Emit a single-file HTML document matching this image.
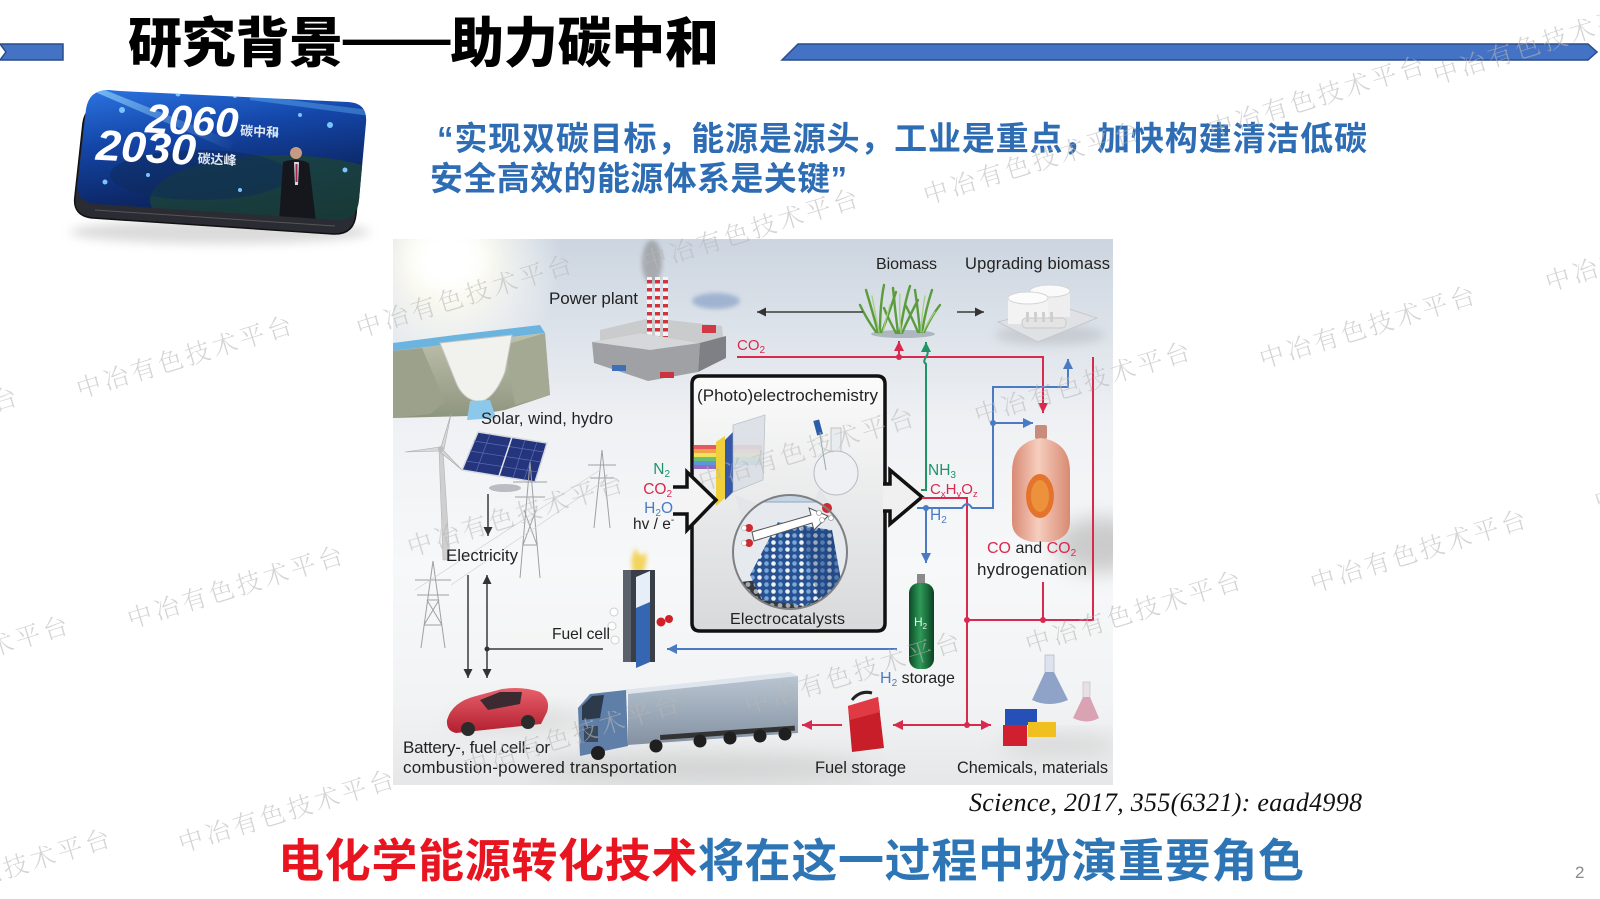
<!DOCTYPE html>
<html><head><meta charset="utf-8">
<style>
html,body{margin:0;padding:0;background:#fff;}
svg{display:block;}
</style></head>
<body>
<svg width="1600" height="899" viewBox="0 0 1600 899" xmlns="http://www.w3.org/2000/svg">
<defs>
  <linearGradient id="dbg" x1="0" y1="0" x2="0" y2="1">
    <stop offset="0" stop-color="#ccd5e0"/>
    <stop offset="0.17" stop-color="#dde3ea"/>
    <stop offset="0.34" stop-color="#eff1f4"/>
    <stop offset="0.6" stop-color="#f7f8f9"/>
    <stop offset="0.85" stop-color="#f2f3f4"/>
    <stop offset="1" stop-color="#e6e7e8"/>
  </linearGradient>
  <radialGradient id="sun" cx="0.5" cy="0.5" r="0.5">
    <stop offset="0" stop-color="#ffffff" stop-opacity="1"/>
    <stop offset="0.35" stop-color="#fffdf0" stop-opacity="0.85"/>
    <stop offset="1" stop-color="#ffffff" stop-opacity="0"/>
  </radialGradient>
  <linearGradient id="mtn" x1="0" y1="0" x2="0" y2="1">
    <stop offset="0" stop-color="#bfc2ad"/>
    <stop offset="1" stop-color="#8e957f"/>
  </linearGradient>
  <linearGradient id="boxg" x1="0" y1="0" x2="0" y2="1">
    <stop offset="0" stop-color="#fbfbfb"/>
    <stop offset="1" stop-color="#d8d9db"/>
  </linearGradient>
  <linearGradient id="cyl" x1="0" y1="0" x2="1" y2="0">
    <stop offset="0" stop-color="#0b4a27"/>
    <stop offset="0.45" stop-color="#2f9a58"/>
    <stop offset="1" stop-color="#0a4223"/>
  </linearGradient>
  <linearGradient id="tank" x1="0" y1="0" x2="1" y2="0">
    <stop offset="0" stop-color="#d98a74"/>
    <stop offset="0.45" stop-color="#f6cdbd"/>
    <stop offset="1" stop-color="#d88a72"/>
  </linearGradient>
  <linearGradient id="trailer" x1="0" y1="0" x2="0" y2="1">
    <stop offset="0" stop-color="#b9c5d1"/>
    <stop offset="1" stop-color="#8391a2"/>
  </linearGradient>
  <linearGradient id="car" x1="0" y1="0" x2="0" y2="1">
    <stop offset="0" stop-color="#e8606c"/>
    <stop offset="1" stop-color="#b31f30"/>
  </linearGradient>
  <linearGradient id="tv" x1="0.2" y1="0" x2="0.5" y2="1">
    <stop offset="0" stop-color="#2a72e0"/>
    <stop offset="0.35" stop-color="#1446a8"/>
    <stop offset="0.7" stop-color="#0d2a6c"/>
    <stop offset="1" stop-color="#0a1a3c"/>
  </linearGradient>
  <linearGradient id="streak" x1="0" y1="0" x2="1" y2="0">
    <stop offset="0" stop-color="#9fe0ff" stop-opacity="0.9"/>
    <stop offset="1" stop-color="#9fe0ff" stop-opacity="0"/>
  </linearGradient>
  <pattern id="chim" width="6" height="8" patternUnits="userSpaceOnUse">
    <rect width="6" height="8" fill="#f4f4f4"/><rect width="6" height="3.5" fill="#d0343f"/>
  </pattern>
  <pattern id="np" width="14" height="7" patternUnits="userSpaceOnUse">
    <rect width="14" height="7" fill="#27528f"/>
    <circle cx="3.5" cy="3.5" r="2.3" fill="#eef2f6"/>
    <circle cx="10.5" cy="3.5" r="2.3" fill="#7aa6dc"/>
  </pattern>
  <pattern id="mesh" width="8" height="7" patternUnits="userSpaceOnUse">
    <rect width="8" height="7" fill="#35383d"/>
    <circle cx="4" cy="3.5" r="2.4" fill="#a4a9b0"/>
  </pattern>
  <filter id="b2" x="-50%" y="-50%" width="200%" height="200%"><feGaussianBlur stdDeviation="2"/></filter>
  <filter id="b5" x="-50%" y="-50%" width="200%" height="200%"><feGaussianBlur stdDeviation="5"/></filter>
  <filter id="b10" x="-50%" y="-50%" width="200%" height="200%"><feGaussianBlur stdDeviation="10"/></filter>
  <clipPath id="dclip"><rect x="393" y="239" width="720" height="546"/></clipPath>
  <clipPath id="cclip"><circle cx="790" cy="552" r="57"/></clipPath>
  <clipPath id="tvclip"><path d="M120,91 L348,102 Q368,103 366,123 L359,200 Q357,221 336,220 L96,204 Q75,202 78,182 L86,109 Q89,90 108,90 Z"/></clipPath>
  <marker id="mk" viewBox="0 0 10 10" refX="10" refY="5" markerWidth="9" markerHeight="9" markerUnits="userSpaceOnUse" orient="auto-start-reverse"><path d="M0,0 L10,5 L0,10 z" fill="#333"/></marker>
  <marker id="mr" viewBox="0 0 10 10" refX="10" refY="5" markerWidth="10" markerHeight="10" markerUnits="userSpaceOnUse" orient="auto-start-reverse"><path d="M0,0 L10,5 L0,10 z" fill="#d9294f"/></marker>
  <marker id="mb" viewBox="0 0 10 10" refX="10" refY="5" markerWidth="10" markerHeight="10" markerUnits="userSpaceOnUse" orient="auto-start-reverse"><path d="M0,0 L10,5 L0,10 z" fill="#4a7bc2"/></marker>
  <marker id="mg" viewBox="0 0 10 10" refX="10" refY="5" markerWidth="10" markerHeight="10" markerUnits="userSpaceOnUse" orient="auto-start-reverse"><path d="M0,0 L10,5 L0,10 z" fill="#1f9466"/></marker>
</defs>

<rect width="1600" height="899" fill="#fff"/>

<!-- Title bars -->
<polygon points="0,44 63,44 63,60 0,60 6,52" fill="#4472c4" stroke="#2a4d8a" stroke-width="1.5"/>
<polygon points="798,44 1588,44 1597,52 1588,60 782,60" fill="#4472c4" stroke="#2a4d8a" stroke-width="1.5"/>

<!-- Title -->
<text x="128" y="62" font-family="'Liberation Sans','Noto Sans CJK SC',sans-serif" font-weight="900" font-size="54" fill="#000" textLength="591" lengthAdjust="spacing">研究背景<tspan dy="-5">——</tspan><tspan dy="5">助力碳中和</tspan></text>

<!-- TV image -->
<ellipse cx="220" cy="232" rx="150" ry="12" fill="#999" opacity="0.35" filter="url(#b5)"/>
<path d="M117,105 L345,116 Q365,117 363,137 L356,214 Q354,235 333,234 L93,218 Q72,216 75,196 L83,123 Q86,104 105,104 Z" fill="#2b2c33" stroke="#111" stroke-width="1.5"/>
<path d="M95,210 L335,226" stroke="#555" stroke-width="1" fill="none"/>
<g clip-path="url(#tvclip)">
  <rect x="70" y="85" width="305" height="145" fill="url(#tv)"/>
  <ellipse cx="280" cy="200" rx="130" ry="45" fill="#1e4636" opacity="0.75"/>
  <ellipse cx="200" cy="175" rx="90" ry="25" fill="#0d2a5a" opacity="0.5"/>
  <polygon points="95,92 230,150 235,142 100,88" fill="url(#streak)" opacity="0.7"/>
  <polygon points="250,95 370,110 370,116 250,100" fill="#6fc6ff" opacity="0.35"/>
  <g fill="#7cc4ff">
    <circle cx="122" cy="110" r="3"/><circle cx="178" cy="94" r="2.5"/><circle cx="235" cy="96" r="2"/>
    <circle cx="330" cy="125" r="3"/><circle cx="276" cy="134" r="2.5"/><circle cx="105" cy="182" r="2.5"/>
    <circle cx="148" cy="175" r="2"/><circle cx="345" cy="170" r="2.5"/><circle cx="300" cy="115" r="2"/>
    <circle cx="240" cy="190" r="2"/>
  </g>
  <!-- person -->
  <circle cx="296" cy="153" r="6" fill="#c79a82"/>
  <path d="M283,162 Q296,157 309,163 L316,222 L279,222 Z" fill="#16171d"/>
  <polygon points="294,162 299,162 298,185 295,185" fill="#d8d8e0"/>
  <polygon points="295.5,164 297.5,164 297.5,182 295.5,182" fill="#9b2a4a"/>
</g>
<g transform="rotate(3 160 130)" font-family="'Liberation Sans','Noto Sans CJK SC',sans-serif">
  <text x="145" y="133" font-size="41" font-weight="700" font-style="italic" fill="#ffffff" textLength="93" lengthAdjust="spacingAndGlyphs">2060</text>
  <text x="240" y="131" font-size="13" font-weight="700" fill="#dfe6f0">碳中和</text>
  <text x="97" y="163" font-size="43" font-weight="700" font-style="italic" fill="#ffffff" textLength="100" lengthAdjust="spacingAndGlyphs">2030</text>
  <text x="199" y="161" font-size="13" font-weight="700" fill="#dfe6f0">碳达峰</text>
</g>

<!-- Quote -->
<g font-family="'Liberation Sans','Noto Sans CJK SC',sans-serif" font-weight="700" font-size="33" fill="#2e6db4">
  <text x="437" y="150" textLength="930" lengthAdjust="spacing">“实现双碳目标，能源是源头，工业是重点，加快构建清洁低碳</text>
  <text x="430" y="190" textLength="417" lengthAdjust="spacing">安全高效的能源体系是关键”</text>
</g>

<!-- ================= DIAGRAM ================= -->
<g clip-path="url(#dclip)">
  <rect x="393" y="239" width="720" height="546" fill="url(#dbg)"/>
  <circle cx="448" cy="262" r="115" fill="url(#sun)"/>
  <ellipse cx="448" cy="258" rx="38" ry="32" fill="#ffffff" filter="url(#b10)"/>
  <ellipse cx="1100" cy="545" rx="45" ry="28" fill="#b9b9b9" opacity="0.7" filter="url(#b10)"/>
  <ellipse cx="700" cy="768" rx="170" ry="14" fill="#c4c4c4" opacity="0.6" filter="url(#b10)"/>
  <ellipse cx="520" cy="720" rx="70" ry="12" fill="#cfcfcf" opacity="0.6" filter="url(#b10)"/>
  <ellipse cx="1060" cy="745" rx="60" ry="10" fill="#c8c8c8" opacity="0.6" filter="url(#b10)"/>
  <ellipse cx="1050" cy="335" rx="55" ry="10" fill="#b8bcc2" opacity="0.6" filter="url(#b5)"/>

  <!-- hydro dam -->
  <polygon points="393,343 455,335 540,325 545,333 460,343 393,351" fill="#6cb4e0"/>
  <polygon points="393,351 460,343 545,333 550,395 505,410 470,416 393,418" fill="url(#mtn)"/>
  <polygon points="393,351 422,348 445,402 430,414 393,418" fill="#9ba18a"/>
  <polygon points="505,345 545,333 550,395 515,405" fill="#a4a993"/>
  <path d="M440,343 L512,335 L505,372 Q495,398 480,402 Q462,400 455,380 Z" fill="#f1f1ee" stroke="#c5c5c0" stroke-width="1"/>
  <polygon points="470,401 490,400 496,418 467,420" fill="#8cc8ea"/>

  <!-- power plant -->
  <ellipse cx="652" cy="262" rx="10" ry="22" fill="#7d7d7d" opacity="0.5" filter="url(#b2)"/>
  <ellipse cx="716" cy="301" rx="24" ry="8" fill="#7c98c3" opacity="0.6" filter="url(#b2)"/>
  <polygon points="600,330 650,318 722,326 724,348 668,360 600,348" fill="#cacbcd"/>
  <rect x="647" y="277" width="5" height="60" fill="url(#chim)"/>
  <rect x="655" y="277" width="5" height="60" fill="url(#chim)"/>
  <rect x="663" y="277" width="5" height="60" fill="url(#chim)"/>
  <polygon points="592,342 640,333 700,343 698,372 648,381 594,363" fill="#a0a1a5"/>
  <polygon points="592,342 640,333 700,343 650,350" fill="#d6d7d9"/>
  <polygon points="700,343 726,336 726,358 698,372" fill="#7e8085"/>
  <rect x="702" y="325" width="14" height="8" fill="#d03a44"/>
  <rect x="612" y="365" width="14" height="6" fill="#3f6fb8"/>
  <rect x="660" y="372" width="14" height="6" fill="#c9343e"/>

  <!-- biomass -->
  <ellipse cx="903" cy="334" rx="32" ry="4" fill="#8e98a4" opacity="0.6"/>
  <g fill="none" stroke="#5b9c3c" stroke-width="2.4" stroke-linecap="round">
    <path d="M878,332 Q872,310 866,290"/><path d="M880,332 Q880,305 884,285"/><path d="M882,332 Q890,310 896,292"/>
    <path d="M876,332 Q866,318 860,305"/><path d="M898,333 Q895,310 893,288"/><path d="M900,333 Q904,305 910,286"/>
    <path d="M902,333 Q910,315 918,300"/><path d="M896,333 Q888,318 884,308"/><path d="M920,332 Q918,310 915,290"/>
    <path d="M922,332 Q926,308 932,290"/><path d="M924,332 Q932,315 940,305"/><path d="M918,332 Q912,318 906,306"/>
  </g>
  <g fill="none" stroke="#a6cf82" stroke-width="1.3" stroke-linecap="round">
    <path d="M879,332 Q875,312 872,296"/><path d="M901,333 Q899,312 900,294"/><path d="M921,332 Q922,312 925,296"/>
    <path d="M883,332 Q886,318 890,305"/><path d="M923,332 Q929,320 935,312"/>
  </g>

  <!-- upgrading biomass tanks -->
  <polygon points="998,322 1060,306 1097,318 1038,342" fill="#dfe1e4" stroke="#c5c8cc"/>
  <rect x="1030" y="291" width="40" height="26" fill="#eeeeee"/>
  <ellipse cx="1050" cy="291" rx="20" ry="6" fill="#fafafa" stroke="#d5d5d5"/>
  <rect x="1008" y="298" width="40" height="26" fill="#f3f3f3"/>
  <ellipse cx="1028" cy="298" rx="20" ry="6" fill="#fcfcfc" stroke="#d5d5d5"/>
  <rect x="1022" y="318" width="44" height="10" rx="4" fill="#e4e4e4" stroke="#c9c9c9"/>
  <g fill="#cfcfcf"><rect x="1026" y="312" width="3" height="10"/><rect x="1034" y="312" width="3" height="10"/><rect x="1042" y="312" width="3" height="10"/><rect x="1050" y="312" width="3" height="10"/></g>

  <!-- wind turbine -->
  <polygon points="439,450 443,450 450,560 443,560" fill="#cfcfcf" stroke="#b5b5b5" stroke-width="0.6"/>
  <polygon points="441,447 451,414 444,449" fill="#d8d8d8" stroke="#aaa" stroke-width="0.6"/>
  <polygon points="440,447 405,452 440,451" fill="#d8d8d8" stroke="#aaa" stroke-width="0.6"/>
  <polygon points="442,449 462,470 439,451" fill="#d8d8d8" stroke="#aaa" stroke-width="0.6"/>
  <circle cx="441" cy="449" r="3" fill="#bdbdbd"/>

  <!-- solar panel -->
  <ellipse cx="505" cy="488" rx="16" ry="4" fill="#b9bcc0"/>
  <polygon points="478,432 547,443 535,482 462,470" fill="#24357e" stroke="#d5d8de" stroke-width="1.5"/>
  <g stroke="#5a6cb0" stroke-width="0.7">
    <line x1="474" y1="441" x2="544" y2="452"/><line x1="470" y1="451" x2="541" y2="462"/><line x1="466" y1="461" x2="538" y2="472"/>
    <line x1="490" y1="434" x2="476" y2="472"/><line x1="525" y1="440" x2="513" y2="478"/><line x1="537" y1="442" x2="524" y2="480"/>
  </g>
  <line x1="512" y1="437" x2="499" y2="476" stroke="#dfe3ea" stroke-width="1.5"/>

  <!-- pylons -->
  <g fill="none" stroke="#a0a0a0" stroke-width="1">
    <path d="M433,561 L421,648 M433,561 L445,648 M424,625 L442,625 M427,600 L439,600 M415,580 L451,580 M417,595 L449,595 M424,625 L439,600 M442,625 L427,600"/>
    <path d="M530,462 L520,578 M530,462 L540,578 M513,482 L547,482 M515,497 L545,497 M523,545 L537,545 M523,545 L536,510 M537,545 L524,510"/>
    <path d="M602,450 L594,528 M602,450 L610,528 M588,465 L616,465 M590,478 L614,478"/>
    <path d="M415,590 L600,470 M451,585 L605,480" stroke="#d2d2d2" stroke-width="0.7"/>
  </g>

  <!-- fuel cell -->
  <path d="M634,573 Q628,560 636,548 Q640,560 646,552 Q648,565 642,574 Z" fill="#f2cf45" opacity="0.85" filter="url(#b2)"/>
  <rect x="623" y="570" width="32" height="92" fill="#3a3e46"/>
  <rect x="623" y="570" width="8" height="92" fill="#5b616b"/>
  <polygon points="636,577 650,571 650,662 636,668" fill="#3566b2"/>
  <polygon points="636,577 650,571 650,602 636,608" fill="#e6eef8"/>
  <circle cx="661" cy="622" r="4.5" fill="#d0202a"/><circle cx="669" cy="619" r="4" fill="#d0202a"/>
  <circle cx="614" cy="612" r="4" fill="#fff" stroke="#cfcfcf"/><circle cx="612" cy="626" r="4" fill="#fff" stroke="#cfcfcf"/><circle cx="615" cy="640" r="4" fill="#fff" stroke="#cfcfcf"/>

  <!-- central box -->
  <rect x="692" y="376" width="193" height="255" rx="8" fill="url(#boxg)"/>
  <polygon points="673,487 687,487 687,472 716,500 687,530 687,514 673,514" fill="#f4f4f4"/>
  <polygon points="883,484 890,484 890,470 922,497 890,524 890,511 883,511" fill="#f0f0f0"/>
  <!-- rainbow -->
  <g opacity="0.9">
    <rect x="694" y="445" width="32" height="4" fill="#e8494b"/><rect x="694" y="449" width="32" height="4" fill="#f39a3c"/>
    <rect x="694" y="453" width="32" height="4" fill="#f3e04a"/><rect x="694" y="457" width="32" height="4" fill="#5dbb63"/>
    <rect x="694" y="461" width="32" height="4" fill="#4c8fd8"/><rect x="694" y="465" width="32" height="4" fill="#8d5bc1"/>
  </g>
  <g opacity="0.35">
    <rect x="728" y="445" width="34" height="4" fill="#e8494b"/><rect x="728" y="449" width="34" height="4" fill="#f39a3c"/>
    <rect x="728" y="453" width="34" height="4" fill="#f3e04a"/><rect x="728" y="457" width="34" height="4" fill="#5dbb63"/>
    <rect x="728" y="461" width="34" height="4" fill="#4c8fd8"/>
  </g>
  <polygon points="725,440 733,432 733,492 725,500" fill="#3658a8"/>
  <polygon points="716,442 725,436 725,498 716,506" fill="#f0d03a"/>
  <polygon points="733,425 765,415 763,480 733,492" fill="#d6dce4" opacity="0.75" stroke="#a9b0ba" stroke-width="0.8"/>
  <path d="M735,495 L745,530 L760,505 Z" fill="#e1e4e8" opacity="0.8"/>
  <path d="M820,488 L840,520 L812,505 Z" fill="#e1e4e8" opacity="0.8"/>
  <rect x="831" y="428" width="10" height="28" fill="#e9ecef" stroke="#b8b8b8" stroke-width="0.8"/>
  <circle cx="836" cy="473" r="22" fill="#eef0f3" stroke="#b9bcc1"/>
  <rect x="815" y="420" width="6" height="15" fill="#2b5da8" transform="rotate(-15 818 427)"/>
  <line x1="820" y1="435" x2="826" y2="470" stroke="#9aa" stroke-width="1"/>
  <!-- circle -->
  <g clip-path="url(#cclip)">
    <rect x="730" y="490" width="120" height="125" fill="#e6eaee"/>
    <rect x="730" y="490" width="120" height="12" fill="#c6d5e4"/>
    <line x1="730" y1="502" x2="850" y2="502" stroke="#8fa7c0" stroke-width="1"/>
    <path d="M730,585 Q760,575 790,588 Q820,598 850,585 L850,615 L730,615 Z" fill="url(#mesh)"/>
    <polygon points="750,575 778,522 832,530 842,586 805,606 762,600" fill="url(#np)"/>
    <polygon points="800,527 832,530 842,586 818,598" fill="#1e3f72" opacity="0.4"/>
  </g>
  <polygon points="752,532 811,515 809,508 828,516 814,530 812,523 754,541" fill="#fff" stroke="#555" stroke-width="1"/>
  <circle cx="749" cy="528" r="4" fill="#cf2a30"/><circle cx="749" cy="543" r="4" fill="#cf2a30"/>
  <circle cx="744" cy="528" r="2.5" fill="#fff" stroke="#999" stroke-width="0.5"/><circle cx="744" cy="543" r="2.5" fill="#fff" stroke="#999" stroke-width="0.5"/>
  <circle cx="827" cy="508" r="5" fill="#cf2a30"/>
  <circle cx="819" cy="513" r="2.5" fill="#fff" stroke="#888" stroke-width="0.6"/><circle cx="822" cy="520" r="2.5" fill="#fff" stroke="#888" stroke-width="0.6"/><circle cx="831" cy="518" r="2.5" fill="#fff" stroke="#888" stroke-width="0.6"/>
  <circle cx="790" cy="552" r="57" fill="none" stroke="#7d7f83" stroke-width="2"/>
  <!-- box outline -->
  <g fill="none" stroke="#111" stroke-width="3.5" stroke-linejoin="miter">
    <path d="M692,477 V384 Q692,376 700,376 H877 Q885,376 885,384 V484"/>
    <path d="M885,511 V623 Q885,631 877,631 H700 Q692,631 692,623 V525"/>
    <path d="M673,487 H687 V472 L716,500 L687,530 V514 H673"/>
    <path d="M883,484 H890 V470 L922,497 L890,524 V511 H883"/>
  </g>

  <!-- H2 cylinder -->
  <rect x="917" y="574" width="8" height="11" fill="#8a8a8a"/>
  <rect x="909" y="583" width="25" height="86" rx="10" fill="url(#cyl)"/>
  <text x="914" y="626" font-family="'Liberation Sans',sans-serif" font-size="12" fill="#e8f2ea">H<tspan font-size="8" dy="3">2</tspan></text>

  <!-- hydrogenation tank -->
  <rect x="1035" y="425" width="12" height="14" rx="2" fill="#c98c7c"/>
  <path d="M1012,472 Q1012,442 1041,438 Q1070,442 1070,472 V522 Q1070,538 1050,542 L1032,542 Q1012,538 1012,522 Z" fill="url(#tank)"/>
  <ellipse cx="1040" cy="496" rx="14" ry="22" fill="#e4742d"/>
  <ellipse cx="1040" cy="496" rx="9" ry="16" fill="#f0a040" opacity="0.7"/>

  <!-- fuel can -->
  <path d="M852,700 Q860,690 872,693" fill="none" stroke="#222" stroke-width="3"/>
  <polygon points="848,706 878,697 884,748 852,752" fill="#c81e2a"/>
  <polygon points="848,706 878,697 880,712 850,720" fill="#e03a44"/>

  <!-- lego -->
  <rect x="1005" y="709" width="32" height="16" fill="#2550b8"/>
  <rect x="1028" y="722" width="28" height="15" fill="#f0c020"/>
  <rect x="1003" y="725" width="24" height="21" fill="#d02030"/>
  <!-- flasks -->
  <rect x="1045" y="655" width="9" height="18" fill="#dde3ee" stroke="#aab" stroke-width="0.6"/>
  <path d="M1045,672 L1032,700 Q1049,708 1068,700 L1054,672 Z" fill="#8fa3c9"/>
  <rect x="1083" y="682" width="7" height="16" fill="#e8e0e4" stroke="#bbb" stroke-width="0.6"/>
  <path d="M1083,697 L1073,718 Q1087,725 1099,718 L1090,697 Z" fill="#d9a3b4"/>

  <!-- car -->
  <path d="M447,720 Q452,702 476,696 L502,689 Q522,686 540,692 Q551,700 547,712 L541,724 L456,733 Q446,731 447,720 Z" fill="url(#car)"/>
  <polygon points="480,700 500,692 522,692 520,704 488,710" fill="#3b2a30"/>
  <circle cx="468" cy="729" r="7" fill="#2b2b2b"/><circle cx="528" cy="722" r="7" fill="#2b2b2b"/>

  <!-- truck -->
  <polygon points="622,690 790,672 798,676 628,694" fill="#dfe5ec"/>
  <polygon points="628,694 798,676 798,733 628,745" fill="url(#trailer)"/>
  <rect x="660" y="735" width="135" height="5" fill="#333" transform="rotate(-4 660 735)"/>
  <polygon points="578,708 590,694 626,690 628,746 580,756" fill="#5f7fa8"/>
  <polygon points="582,706 592,696 604,695 600,718 582,720" fill="#2c3a4c"/>
  <rect x="584" y="726" width="14" height="16" fill="#3a4a5e"/>
  <g fill="#1f1f1f">
    <circle cx="598" cy="753" r="7"/><circle cx="656" cy="746" r="6.5"/><circle cx="700" cy="741" r="6.5"/>
    <circle cx="730" cy="738" r="6.5"/><circle cx="760" cy="736" r="6.5"/><circle cx="785" cy="734" r="6.5"/>
  </g>

  <!-- connectors -->
  <g fill="none" stroke-width="2">
    <path d="M737,357 H1043 V413" stroke="#d9294f" marker-end="url(#mr)"/>
    <path d="M899,357 V341" stroke="#d9294f" marker-end="url(#mr)"/>
    <path d="M1093,357 V620 H967" stroke="#d9294f"/>
    <path d="M1043,582 V620" stroke="#d9294f"/>
    <path d="M922,498 H967 V725" stroke="#d9294f"/>
    <path d="M893,725 H991" stroke="#d9294f" marker-start="url(#mr)" marker-end="url(#mr)"/>
    <path d="M842,725 H802" stroke="#d9294f" marker-end="url(#mr)"/>
    <path d="M921,490 H926 V364 C920,360 932,354 926,350 V342" stroke="#1f9466" marker-end="url(#mg)"/>
    <path d="M917,508 H962 Q967,500 972,508 H993 V387 H1068 V359" stroke="#4a7bc2" marker-end="url(#mb)"/>
    <path d="M993,423 H1033" stroke="#4a7bc2" marker-end="url(#mb)"/>
    <path d="M926,508 V563" stroke="#4a7bc2" marker-end="url(#mb)"/>
    <path d="M897,649 H667" stroke="#4a7bc2" marker-end="url(#mb)"/>
  </g>
  <g fill="none" stroke="#3a3a3a" stroke-width="1.5">
    <path d="M863,312 H757" marker-end="url(#mk)"/>
    <path d="M957,312 H984" marker-end="url(#mk)"/>
    <path d="M488,494 V536" marker-end="url(#mk)"/>
    <path d="M468,575 V678" marker-end="url(#mk)"/>
    <path d="M487,575 V678" marker-start="url(#mk)" marker-end="url(#mk)"/>
    <path d="M487,649 H603"/>
  </g>
  <g>
    <circle cx="899" cy="357" r="3" fill="#d9294f"/>
    <circle cx="967" cy="620" r="3" fill="#d9294f"/>
    <circle cx="1043" cy="620" r="3" fill="#d9294f"/>
    <circle cx="967" cy="725" r="3" fill="#d9294f"/>
    <circle cx="926" cy="508" r="3" fill="#4a7bc2"/>
    <circle cx="993" cy="423" r="3" fill="#4a7bc2"/>
    <circle cx="487" cy="649" r="2.5" fill="#333"/>
  </g>

  <!-- labels -->
  <g font-family="'Liberation Sans',sans-serif" fill="#222">
    <text x="549" y="304" font-size="17" textLength="89">Power plant</text>
    <text x="481" y="424" font-size="16.5" textLength="132">Solar, wind, hydro</text>
    <text x="876" y="269" font-size="16" textLength="61">Biomass</text>
    <text x="965" y="269" font-size="16.5" textLength="145">Upgrading biomass</text>
    <text x="737" y="350" font-size="15" fill="#d9294f">CO<tspan font-size="10" dy="3">2</tspan></text>
    <text x="697" y="401" font-size="17" textLength="181">(Photo)electrochemistry</text>
    <text x="730" y="624" font-size="16" textLength="115">Electrocatalysts</text>
    <text x="670" y="474" font-size="15.5" fill="#1f9466" text-anchor="end">N<tspan font-size="10" dy="3">2</tspan></text>
    <text x="672" y="494" font-size="15.5" fill="#d9294f" text-anchor="end">CO<tspan font-size="10" dy="3">2</tspan></text>
    <text x="673" y="513" font-size="15.5" fill="#4a7bc2" text-anchor="end">H<tspan font-size="10" dy="3">2</tspan><tspan dy="-3">O</tspan></text>
    <text x="633" y="529" font-size="15.5">hv / e<tspan font-size="10" dy="-6">-</tspan></text>
    <text x="928" y="475" font-size="15.5" fill="#1f9466">NH<tspan font-size="10" dy="3">3</tspan></text>
    <text x="930" y="494" font-size="15" fill="#d9294f">C<tspan font-size="9.5" dy="3">x</tspan><tspan dy="-3">H</tspan><tspan font-size="9.5" dy="3">y</tspan><tspan dy="-3">O</tspan><tspan font-size="9.5" dy="3">z</tspan></text>
    <text x="930" y="520" font-size="15.5" fill="#4a7bc2">H<tspan font-size="10" dy="3">2</tspan></text>
    <text x="446" y="561" font-size="16.8" textLength="72">Electricity</text>
    <text x="552" y="639" font-size="15.6" textLength="58">Fuel cell</text>
    <text x="880" y="683" font-size="16"><tspan fill="#4a7bc2">H</tspan><tspan fill="#4a7bc2" font-size="10" dy="3">2</tspan><tspan dy="-3"> storage</tspan></text>
    <text x="987" y="553" font-size="16"><tspan fill="#d9294f">CO</tspan> and <tspan fill="#d9294f">CO</tspan><tspan fill="#d9294f" font-size="10" dy="3">2</tspan></text>
    <text x="977" y="575" font-size="17" textLength="110">hydrogenation</text>
    <text x="815" y="773" font-size="16.5" textLength="91">Fuel storage</text>
    <text x="957" y="773" font-size="16.3" textLength="151">Chemicals, materials</text>
    <text x="403" y="753" font-size="17" textLength="147">Battery-, fuel cell- or</text>
    <text x="403" y="773" font-size="17" textLength="274">combustion-powered transportation</text>
  </g>
</g>

<!-- citation -->
<text x="969" y="811" font-family="'Liberation Serif',serif" font-style="italic" font-size="26" fill="#111" textLength="393" lengthAdjust="spacing">Science, 2017, 355(6321): eaad4998</text>

<!-- bottom statement -->
<text x="278" y="877" font-family="'Liberation Sans','Noto Sans CJK SC',sans-serif" font-weight="700" font-size="46" textLength="1026" lengthAdjust="spacing"><tspan fill="#e8141f">电化学能源转化技术</tspan><tspan fill="#2e75b6">将在这一过程中扮演重要角色</tspan></text>

<text x="1575" y="878" font-family="'Liberation Sans',sans-serif" font-size="17" fill="#8a8a8a">2</text>

<!-- watermarks -->
<g font-family="'Liberation Serif','Noto Serif CJK SC',serif" font-size="25" font-weight="300" fill="#b8b8b8" opacity="0.6" text-anchor="middle">
  <text transform="translate(1316,97) rotate(-17)" y="9" textLength="224">中冶有色技术平台</text>
  <text transform="translate(1541,43) rotate(-17)" y="9" textLength="224">中冶有色技术平台</text>
  <text transform="translate(1031,163) rotate(-17)" y="9" textLength="224">中冶有色技术平台</text>
  <text transform="translate(750,230) rotate(-17)" y="9" textLength="224">中冶有色技术平台</text>
  <text transform="translate(464,296) rotate(-17)" y="9" textLength="224">中冶有色技术平台</text>
  <text transform="translate(184,357) rotate(-17)" y="9" textLength="224">中冶有色技术平台</text>
  <text transform="translate(-91,428) rotate(-17)" y="9" textLength="224">中冶有色技术平台</text>
  <text transform="translate(1082,383) rotate(-17)" y="9" textLength="224">中冶有色技术平台</text>
  <text transform="translate(1367,327) rotate(-17)" y="9" textLength="224">中冶有色技术平台</text>
  <text transform="translate(1653,250) rotate(-17)" y="9" textLength="224">中冶有色技术平台</text>
  <text transform="translate(806,449) rotate(-17)" y="9" textLength="224">中冶有色技术平台</text>
  <text transform="translate(515,515) rotate(-17)" y="9" textLength="224">中冶有色技术平台</text>
  <text transform="translate(235,587) rotate(-17)" y="9" textLength="224">中冶有色技术平台</text>
  <text transform="translate(-40,657) rotate(-17)" y="9" textLength="224">中冶有色技术平台</text>
  <text transform="translate(1133,612) rotate(-17)" y="9" textLength="224">中冶有色技术平台</text>
  <text transform="translate(1418,551) rotate(-17)" y="9" textLength="224">中冶有色技术平台</text>
  <text transform="translate(1702,469) rotate(-17)" y="9" textLength="224">中冶有色技术平台</text>
  <text transform="translate(852,673) rotate(-17)" y="9" textLength="224">中冶有色技术平台</text>
  <text transform="translate(571,735) rotate(-17)" y="9" textLength="224">中冶有色技术平台</text>
  <text transform="translate(286,811) rotate(-17)" y="9" textLength="224">中冶有色技术平台</text>
  <text transform="translate(2,870) rotate(-17)" y="9" textLength="224">中冶有色技术平台</text>
</g>
</svg>
</body></html>
